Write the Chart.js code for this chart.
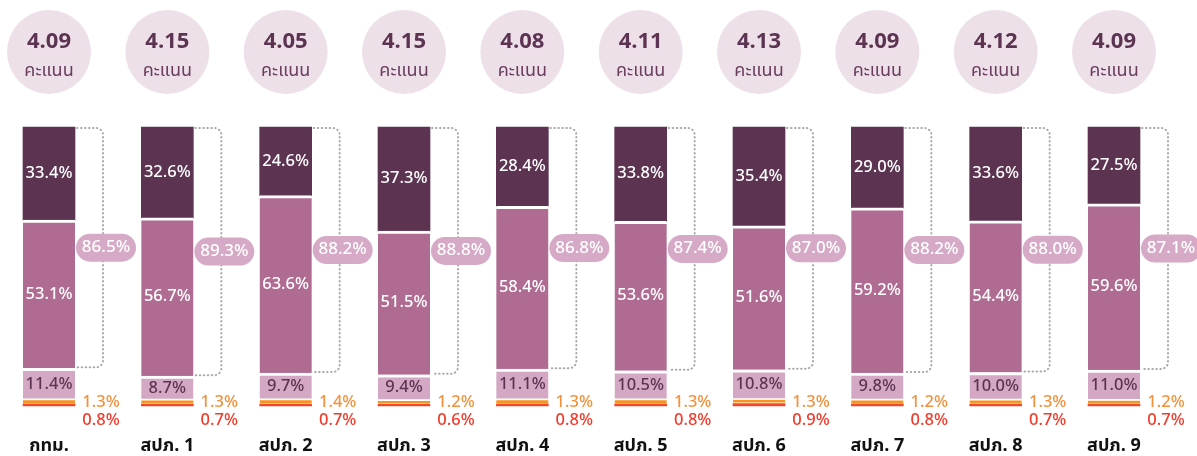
<html lang="th">
  <head>
    <meta charset="UTF-8" />
    <title>Stacked satisfaction chart</title>
    <script src="https://cdn.jsdelivr.net/npm/chart.js"></script>
    <style>
      body {
        margin: 0;
        background: #ffffff;
      }
      #wrap {
        width: 1197px;
        height: 456px;
      }
    </style>
  </head>
  <body>
    <div id="wrap"><canvas id="chart"></canvas></div>
    <script>
      const regions = ["กทม.", "สปภ. 1", "สปภ. 2", "สปภ. 3", "สปภ. 4", "สปภ. 5", "สปภ. 6", "สปภ. 7", "สปภ. 8", "สปภ. 9"];
      const scores = ["4.09", "4.15", "4.05", "4.15", "4.08", "4.11", "4.13", "4.09", "4.12", "4.09"];
      const veryHigh = [33.4, 32.6, 24.6, 37.3, 28.4, 33.8, 35.4, 29.0, 33.6, 27.5];
      const high = [53.1, 56.7, 63.6, 51.5, 58.4, 53.6, 51.6, 59.2, 54.4, 59.6];
      const medium = [11.4, 8.7, 9.7, 9.4, 11.1, 10.5, 10.8, 9.8, 10.0, 11.0];
      const low = [1.3, 1.3, 1.4, 1.2, 1.3, 1.3, 1.3, 1.2, 1.3, 1.2];
      const veryLow = [0.8, 0.7, 0.7, 0.6, 0.8, 0.8, 0.9, 0.8, 0.7, 0.7];
      const topTwo = [86.5, 89.3, 88.2, 88.8, 86.8, 87.4, 87.0, 88.2, 88.0, 87.1];

      const FONT = "'Noto Sans Thai', 'Noto Sans', sans-serif";
      const DARK = "#5c3452";

      function roundRect(ctx, x, y, w, h, r) {
        ctx.beginPath();
        ctx.moveTo(x + r, y);
        ctx.arcTo(x + w, y, x + w, y + h, r);
        ctx.arcTo(x + w, y + h, x, y + h, r);
        ctx.arcTo(x, y + h, x, y, r);
        ctx.arcTo(x, y, x + w, y, r);
        ctx.closePath();
      }

      const decorations = {
        id: "decorations",
        afterDatasetsDraw(chart) {
          const ctx = chart.ctx;
          const xs = chart.scales.x;
          const ys = chart.scales.y;
          const metaMed = chart.getDatasetMeta(2);
          const metaHigh = chart.getDatasetMeta(3);
          const metaTop = chart.getDatasetMeta(4);
          ctx.save();
          ctx.textAlign = "center";
          ctx.textBaseline = "middle";

          regions.forEach((name, i) => {
            const x = xs.getPixelForValue(i);

            // score circle
            ctx.fillStyle = "#eee0e9";
            ctx.beginPath();
            ctx.arc(x, 52, 42, 0, Math.PI * 2);
            ctx.fill();
            ctx.fillStyle = DARK;
            ctx.font = "bold 22px " + FONT;
            ctx.fillText(scores[i], x, 44);
            ctx.fillStyle = "#6a3d5f";
            ctx.font = "18px " + FONT;
            ctx.fillText("คะแนน", x, 72);

            // segment labels
            const segs = [
              [metaTop.data[i], veryHigh[i], "#ffffff"],
              [metaHigh.data[i], high[i], "#ffffff"],
              [metaMed.data[i], medium[i], DARK],
            ];
            ctx.font = "500 16.5px " + FONT;
            segs.forEach(([el, v, c]) => {
              ctx.fillStyle = c;
              ctx.fillText(v.toFixed(1) + "%", x, (el.y + el.base) / 2 + 1);
            });

            // dotted bracket around top two
            const yTop = ys.getPixelForValue(100) + 1;
            const yBot = metaHigh.data[i].base - 1;
            const xl = x + 28;
            const xr = x + 54;
            const r = 7;
            ctx.strokeStyle = "#a9a9a9";
            ctx.lineWidth = 2;
            ctx.lineCap = "round";
            ctx.setLineDash([0.5, 3.5]);
            ctx.beginPath();
            ctx.moveTo(xl, yTop);
            ctx.lineTo(xr - r, yTop);
            ctx.arcTo(xr, yTop, xr, yTop + r, r);
            ctx.lineTo(xr, yBot - r);
            ctx.arcTo(xr, yBot, xr - r, yBot, r);
            ctx.lineTo(xl, yBot);
            ctx.stroke();
            ctx.setLineDash([]);

            // total pill
            const py = (yTop + yBot) / 2;
            const pw = 60;
            const ph = 28;
            ctx.fillStyle = "#d6aac6";
            roundRect(ctx, xr + 3 - pw / 2, py - ph / 2, pw, ph, ph / 2);
            ctx.fill();
            ctx.fillStyle = "#ffffff";
            ctx.font = "500 17px " + FONT;
            ctx.fillText(topTwo[i].toFixed(1) + "%", xr + 3, py + 1);

            // low values
            ctx.font = "500 16.5px " + FONT;
            ctx.fillStyle = "#f3923c";
            ctx.fillText(low[i].toFixed(1) + "%", x + 52, 404);
            ctx.fillStyle = "#f23b2b";
            ctx.fillText(veryLow[i].toFixed(1) + "%", x + 52, 422);

            // region label
            ctx.fillStyle = "#111111";
            ctx.font = "bold 18px " + FONT;
            ctx.fillText(name, x, 447);
          });
          ctx.restore();
        },
      };

      const seg = (label, data, color, top, bottom) => ({
        label,
        data,
        backgroundColor: color,
        borderColor: "#ffffff",
        borderWidth: { top, bottom, left: 0, right: 0 },
        borderSkipped: false,
        barThickness: 52,
        clip: false,
      });

      new Chart(document.getElementById("chart"), {
        type: "bar",
        data: {
          labels: regions,
          datasets: [
            seg("น้อยที่สุด", veryLow, "#ee4a2b", 0, 0),
            seg("น้อย", low, "#f7931e", 0, 1.2),
            seg("ปานกลาง", medium, "#d4a8c4", 3, 2),
            seg("มาก", high, "#b06b92", 3, 0),
            seg("มากที่สุด", veryHigh, DARK, 0, 0),
          ],
        },
        options: {
          responsive: true,
          maintainAspectRatio: false,
          animation: false,
          layout: { padding: { left: 49, right: 83, top: 127, bottom: 50 } },
          plugins: { legend: { display: false }, tooltip: { enabled: false } },
          scales: {
            x: { stacked: true, offset: false, display: false },
            y: { stacked: true, min: 0, max: 100, display: false },
          },
        },
        plugins: [decorations],
      });
    </script>
  </body>
</html>
